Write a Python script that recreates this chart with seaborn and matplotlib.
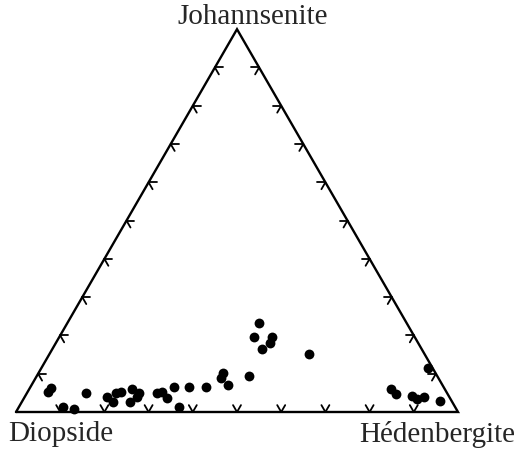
import numpy as np
import pandas as pd
import matplotlib
matplotlib.use("Agg")
import matplotlib.pyplot as plt
import seaborn as sns

# Ternary compositions (percent): Johannsenite, Hedenbergite (Diopside = remainder)
johannsenite = [6.3, 5.3, 1.2, 0.7, 4.9, 4.0, 2.7, 4.9, 5.3, 5.9, 2.5, 4.0, 5.0,
                5.0, 5.3, 3.6, 6.5, 1.2, 6.5, 6.5, 8.8, 10.1, 7.1, 9.5,
                23.2, 19.7, 19.7, 17.9, 16.4, 15.1,
                5.9, 4.7, 4.2, 3.4, 3.8, 3.0, 11.4]
hedenbergite = [4.8, 4.7, 10.1, 12.8, 13.4, 18.5, 20.7, 20.2, 21.0, 23.2, 24.5, 25.3, 25.4,
                29.4, 30.3, 32.3, 32.4, 36.3, 36.0, 39.7, 41.9, 41.8, 44.4, 48.0,
                43.3, 44.0, 48.0, 48.5, 47.4, 58.8,
                81.8, 83.6, 87.6, 89.0, 90.4, 94.5, 87.4]
vertex_labels = ["Diopside", "Hédenbergite", "Johannsenite"]
tick_values = [10, 20, 30, 40, 50, 60, 70, 80, 90]

S3 = np.sqrt(3) / 2

def to_xy(j, h):
    j = np.asarray(j) / 100.0
    h = np.asarray(h) / 100.0
    return h + 0.5 * j, S3 * j

x, y = to_xy(johannsenite, hedenbergite)
df = pd.DataFrame({"x": x, "y": y})

sns.set_style("white")
plt.rcParams['font.family'] = ['Liberation Serif', 'DejaVu Serif']

fig = plt.figure(figsize=(5.17, 4.5), dpi=100)
ax = fig.add_axes([0, 0, 1, 1])
ax.set_xlim(-16 / 442, 501 / 442)
ax.set_ylim(-38 / 442, 412 / 442)
ax.axis("off")

# triangle frame
A = np.array([0, 0]); B = np.array([1, 0]); C = np.array([0.5, S3])
tri = np.array([A, B, C, A])
ax.plot(tri[:, 0], tri[:, 1], color="black", lw=1.7, solid_joinstyle="miter", zorder=2)

L = 0.018
def d(ang):
    r = np.deg2rad(ang)
    return np.array([np.cos(r), np.sin(r)])

for t in tick_values:
    f = t / 100
    # bottom edge: V shape
    p = A + f * (B - A)
    for ang in (60, 120):
        q = p + L * d(ang)
        ax.plot([p[0], q[0]], [p[1], q[1]], color="black", lw=1.3, zorder=2)
    # left edge: < shape
    p = A + f * (C - A)
    for ang in (0, -60):
        q = p + L * d(ang)
        ax.plot([p[0], q[0]], [p[1], q[1]], color="black", lw=1.3, zorder=2)
    # right edge: > shape
    p = B + f * (C - B)
    for ang in (180, 240):
        q = p + L * d(ang)
        ax.plot([p[0], q[0]], [p[1], q[1]], color="black", lw=1.3, zorder=2)

sns.scatterplot(data=df, x="x", y="y", ax=ax, color="black", s=50,
                edgecolor="black", linewidth=0, zorder=3, legend=False)
ax.set_xlabel(""); ax.set_ylabel("")
ax.axis("off")

fs = 21
ax.text(-8 / 442, -22 / 442, vertex_labels[0], ha="left", va="center", fontsize=fs)
ax.text(499 / 442, -23 / 442, vertex_labels[1], ha="right", va="center", fontsize=fs)
ax.text(237 / 442, 395 / 442, vertex_labels[2], ha="center", va="center", fontsize=fs)

fig.savefig("out.png", dpi=100)
